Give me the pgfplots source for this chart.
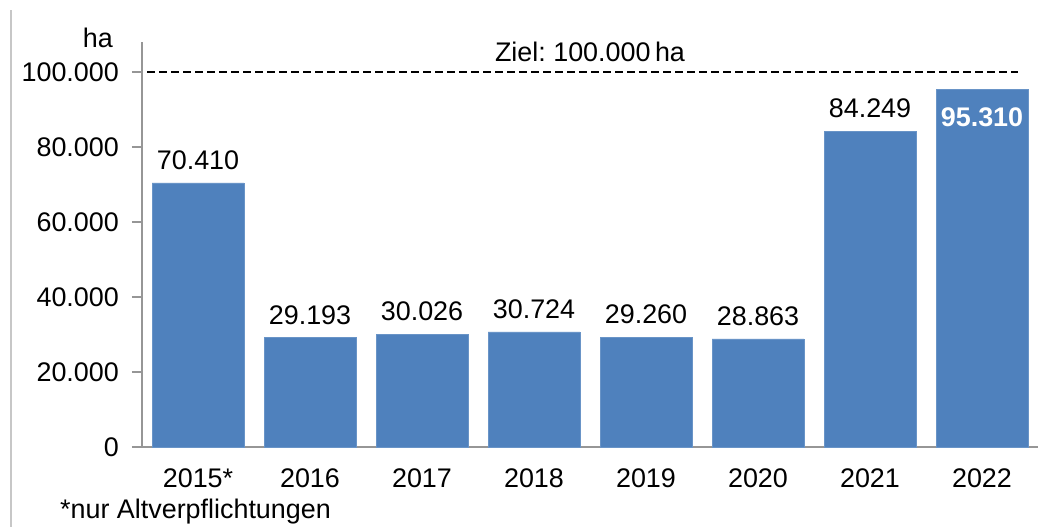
\documentclass[border=0pt]{standalone}
\usepackage{pgfplots}
\pgfplotsset{compat=1.18}
\usepackage{fontspec}
\setmainfont{Liberation Sans}
\definecolor{barblue}{RGB}{79,129,189}
\definecolor{axgray}{RGB}{150,150,150}

\begin{document}
\frenchspacing
\fontsize{27}{32}\selectfont
\begin{tikzpicture}[font=\fontsize{27}{32}\selectfont]
\useasboundingbox (0,0) rectangle (1059bp,527bp);
\draw[color=black!22, line width=1.2bp] (11bp,0) -- (11bp,517bp);
\begin{axis}[
  at={(142bp,80bp)}, anchor=south west,
  scale only axis, width=896bp, height=405bp,
  xmin=-0.5, xmax=7.5, ymin=0, ymax=108000,
  axis lines=left, axis line style={-, axgray, line width=2bp},
  xtick={0,...,7},
  xticklabels={2015*,2016,2017,2018,2019,2020,2021,2022},
  major x tick style={draw=none},
  ytick={0,20000,40000,60000,80000,100000},
  scaled y ticks=false,
  ytick style={axgray, line width=2bp},
  tick align=outside, major tick length=10bp,
  yticklabel style={xshift=-4bp},
  xticklabel style={yshift=-3bp},
  /pgf/number format/.cd, assume math mode=true, fixed, precision=0, 1000 sep={.}, /pgfplots/.cd,
  ybar, bar width=0.82, bar shift=0pt,
  clip=false,
]
\addplot[fill=barblue, draw=barblue!85!white,
  nodes near coords, every node near coord/.append style={anchor=south, yshift=4bp, black}]
  coordinates {(0,70410) (1,29193) (2,30026) (3,30724) (4,29260) (5,28863) (6,84249)};
\addplot[fill=barblue, draw=barblue!85!white,
  nodes near coords, every node near coord/.append style={anchor=north, yshift=-9bp, white, font=\fontsize{27}{32}\selectfont\bfseries}]
  coordinates {(7,95310)};
\addplot[sharp plot, black, line width=2bp, dash pattern=on 8bp off 4bp, forget plot]
  coordinates {(-0.455,100000) (7.32,100000)};
\node[anchor=south, inner sep=0pt] at (axis cs:3.5,102800) {Ziel: 100.000\,ha};
\end{axis}
\node[anchor=east, inner sep=0pt] at (113bp,489bp) {ha};
\node[anchor=west, inner sep=0pt] at (60bp,15bp) {*nur Altverpflichtungen};
\end{tikzpicture}
\end{document}
